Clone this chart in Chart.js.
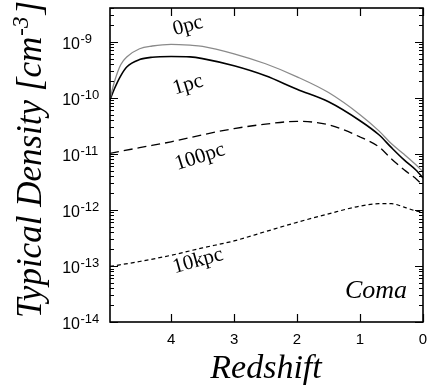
<!DOCTYPE html>
<html><head><meta charset="utf-8">
<script src="https://cdn.jsdelivr.net/npm/chart.js@4.4.0/dist/chart.umd.min.js"></script>
<style>html,body{margin:0;padding:0;background:#fff}#wrap{width:428px;height:387px}</style>
</head><body><div id="wrap"><canvas id="c" width="428" height="387"></canvas></div>
<script>
// ---- data ----
const redshiftInner = [4.97,4.9,4.8,4.7,4.5,4.3,4.0,3.7,3.5,3.0,2.5,2.0,1.5,1.0,0.7,0.5,0.3,0.1,0];
const density0pc = [9.5e-11,1.93e-10,3.9e-10,5.4e-10,7.5e-10,8.4e-10,9.0e-10,8.7e-10,8.3e-10,6.1e-10,4.05e-10,2.37e-10,1.24e-10,5.0e-11,2.57e-11,1.51e-11,9.8e-12,6.2e-12,4.8e-12];
const density1pc = [9.2e-11,1.45e-10,2.47e-10,3.58e-10,4.8e-10,5.3e-10,5.46e-10,5.37e-10,5.0e-10,3.72e-10,2.47e-10,1.42e-10,8.5e-11,3.9e-11,2.19e-11,1.29e-11,7.8e-12,5.0e-12,3.7e-12];
const redshiftOuter = [4.97,4.5,4.0,3.5,3.0,2.5,2.0,1.5,1.0,0.7,0.5,0.3,0.1,0];
const density100pc = [1.02e-11,1.29e-11,1.64e-11,2.19e-11,2.82e-11,3.39e-11,3.8e-11,3.3e-11,2.0e-11,1.33e-11,8.1e-12,5.2e-12,3.5e-12,2.7e-12];
const density10kpc = [9.8e-14,1.2e-13,1.55e-13,2.1e-13,2.8e-13,4.1e-13,6.0e-13,8.5e-13,1.17e-12,1.29e-12,1.29e-12,1.12e-12,9.5e-13,9.1e-13];
const xTickValues = [4,3,2,1,0];
const yTickExponents = [-9,-10,-11,-12,-13,-14];
const curveLabels = ['0pc','1pc','100pc','10kpc'];
const panelLabel = 'Coma';
const xTitle = 'Redshift';
const yTitle = ['Typical Density [cm', '-3', ']'];

function pts(xs, ys){ return xs.map((x,i)=>({x:x, y:ys[i]})); }

const framePlugin = {
  id:'frame',
  afterDraw(chart){
    const ctx = chart.ctx, a = chart.chartArea;
    const xs = chart.scales.x, ys = chart.scales.y;
    ctx.save();
    ctx.strokeStyle = '#000';
    ctx.lineWidth = 1.6;
    ctx.strokeRect(a.left, a.top, a.right-a.left, a.bottom-a.top);
    ctx.lineWidth = 1.2;
    // x ticks
    ctx.beginPath();
    xTickValues.forEach(v=>{
      const px = Math.round(xs.getPixelForValue(v))+0.5;
      ctx.moveTo(px, a.bottom); ctx.lineTo(px, a.bottom-8);
      ctx.moveTo(px, a.top); ctx.lineTo(px, a.top+8);
    });
    // y ticks
    for (let e=-14; e<=-9; e++){
      for (let m=1; m<=9; m++){
        const v = m*Math.pow(10,e);
        if (v > ys.max*1.0001 || v < ys.min*0.9999) continue;
        const py = Math.round(ys.getPixelForValue(v))+0.5;
        const len = m===1 ? 8 : 4;
        ctx.moveTo(a.left, py); ctx.lineTo(a.left+len, py);
        ctx.moveTo(a.right, py); ctx.lineTo(a.right-len, py);
      }
    }
    ctx.stroke();
    // x tick labels
    ctx.fillStyle = '#000';
    ctx.font = '15px "Liberation Sans", Arial, sans-serif';
    ctx.textAlign = 'center'; ctx.textBaseline = 'alphabetic';
    xTickValues.forEach(v=>{
      ctx.fillText(String(v), xs.getPixelForValue(v), 344);
    });
    // y tick labels with superscripts
    yTickExponents.forEach(e=>{
      const py = ys.getPixelForValue(Math.pow(10,e));
      ctx.font = '16px "Liberation Sans", Arial, sans-serif';
      ctx.textAlign = 'right';
      ctx.fillText('10', 80, py+7);
      ctx.font = '13px "Liberation Sans", Arial, sans-serif';
      ctx.textAlign = 'left';
      ctx.fillText(String(e), 80.5, py+1);
    });
    // axis titles
    ctx.font = 'italic 34px "Liberation Serif", "Times New Roman", serif';
    ctx.textAlign = 'center';
    ctx.fillText(xTitle, 266, 378);
    ctx.save();
    ctx.translate(41, 161);
    ctx.rotate(-Math.PI/2);
    const fMain = 'italic 35px "Liberation Serif", "Times New Roman", serif';
    const fSup = 'italic 23px "Liberation Serif", "Times New Roman", serif';
    ctx.font = fMain; const w1 = ctx.measureText(yTitle[0]).width; const w3 = ctx.measureText(yTitle[2]).width;
    ctx.font = fSup; const w2 = ctx.measureText(yTitle[1]).width;
    let x0 = -(w1+w2+w3)/2;
    ctx.textAlign = 'left';
    ctx.font = fMain; ctx.fillText(yTitle[0], x0, 0);
    ctx.font = fSup; ctx.fillText(yTitle[1], x0+w1+1, -13);
    ctx.font = fMain; ctx.fillText(yTitle[2], x0+w1+w2+3, 0);
    ctx.restore();
    // curve labels
    const lab = [[188,26,-0.27],[188,85,-0.29],[200,157,-0.31],[198,261,-0.27]];
    ctx.font = '21px "Liberation Serif", "Times New Roman", serif';
    ctx.textAlign = 'center'; ctx.textBaseline = 'middle';
    curveLabels.forEach((t,i)=>{
      ctx.save(); ctx.translate(lab[i][0], lab[i][1]); ctx.rotate(lab[i][2]);
      ctx.fillText(t,0,0); ctx.restore();
    });
    ctx.font = 'italic 26px "Liberation Serif", "Times New Roman", serif';
    ctx.textBaseline = 'alphabetic';
    ctx.fillText(panelLabel, 376, 298);
    ctx.restore();
  }
};

new Chart(document.getElementById('c'), {
  type:'line',
  data:{ datasets:[
    {label:'0pc', data:pts(redshiftInner,density0pc), borderColor:'#8a8a8a', borderWidth:1.3},
    {label:'1pc', data:pts(redshiftInner,density1pc), borderColor:'#000', borderWidth:1.6},
    {label:'100pc', data:pts(redshiftOuter,density100pc), borderColor:'#000', borderWidth:1.3, borderDash:[9,5]},
    {label:'10kpc', data:pts(redshiftOuter,density10kpc), borderColor:'#000', borderWidth:1.2, borderDash:[4,3]}
  ]},
  options:{
    responsive:false, animation:false, devicePixelRatio:1,
    layout:{padding:{left:110,right:5,top:8,bottom:65}},
    elements:{point:{radius:0}, line:{cubicInterpolationMode:'monotone', fill:false}},
    plugins:{legend:{display:false}, tooltip:{enabled:false}},
    scales:{
      x:{type:'linear', reverse:true, min:0, max:4.97, display:false},
      y:{type:'logarithmic', min:1e-14, max:4e-9, display:false}
    }
  },
  plugins:[framePlugin]
});
</script></body></html>
